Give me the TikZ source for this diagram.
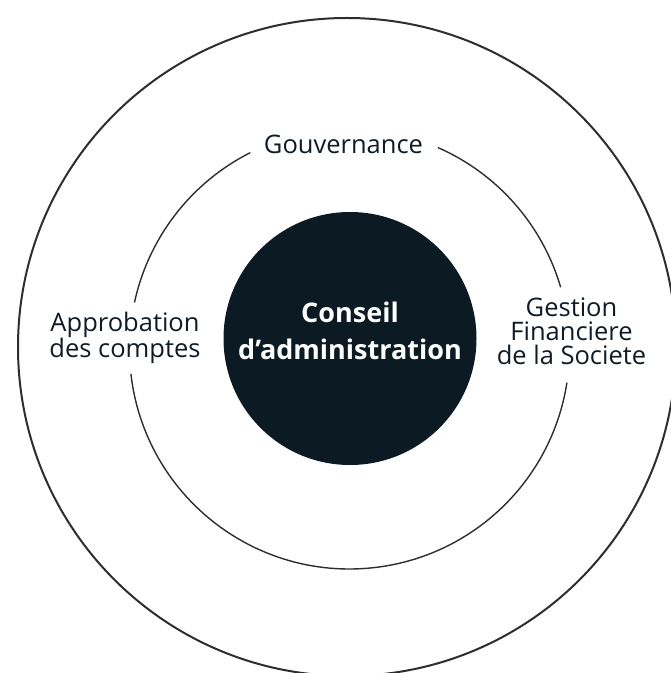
\documentclass[tikz,border=0pt]{standalone}
\usepackage{fontspec}
\setmainfont{Open Sans}
\definecolor{navy}{HTML}{0C1A24}
\definecolor{ink}{HTML}{0F1C27}
\definecolor{ring}{HTML}{2E2E2E}
\begin{document}
\begin{tikzpicture}[x=1pt,y=1pt,
  ringline/.style={draw=ring,line width=1.4pt},
  outerline/.style={draw=ring,line width=2pt},
  lbl/.style={text=ink,font=\fontsize{25.5}{24}\selectfont,align=center,inner sep=0pt},
  corecircle/.style={circle,fill=navy,minimum size=253pt,inner sep=0pt},
  coretext/.style={text=white,font=\bfseries\fontsize{27}{37}\selectfont,align=center,inner sep=0pt}]
\useasboundingbox (0,0) rectangle (671,673);
\clip (0,0) rectangle (671,673);
\fill[white] (0,0) rectangle (671,673);
% outer ring
\coordinate (oc) at (347,326);
\draw[outerline] (oc) circle[radius=329];
% middle ring, broken around the labels
\coordinate (mc) at (349.5,324);
\draw[ringline] ([shift={(16.3:220)}]mc) arc[start angle=16.3,end angle=66.3,radius=220];
\draw[ringline] ([shift={(116.8:220)}]mc) arc[start angle=116.8,end angle=167.8,radius=220];
\draw[ringline] ([shift={(186.5:220)}]mc) arc[start angle=186.5,end angle=351.2,radius=220];
% core
\node[corecircle] (core) at (350,334.5) {};
\node[coretext] (coretitle) at (350,341.9) {Conseil\\d’administration};
% labels
\node[lbl,anchor=base] (gouv) at (343.5,519.7) {Gouvernance};
\node[lbl,font=\fontsize{25.5}{23}\selectfont] (appro) at (125,335.1) {Approbation\\des comptes};
\node[lbl] (gestion) at (571.5,342) {Gestion\\Financiere\\de la Societe};
\end{tikzpicture}
\end{document}
